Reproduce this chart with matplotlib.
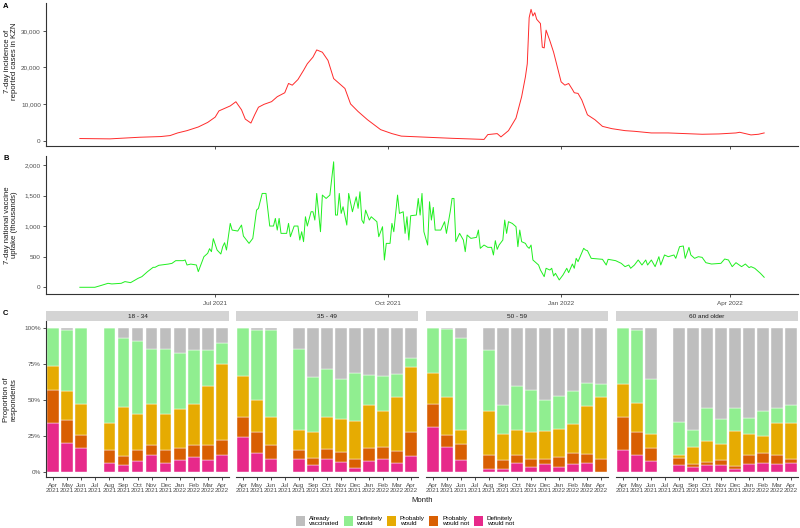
import numpy as np
import pandas as pd
import matplotlib
matplotlib.use("Agg")
import matplotlib.pyplot as plt
from matplotlib.patches import Patch

plt.rcParams['font.family'] = ['Liberation Sans', 'DejaVu Sans']

# ---------------- data ----------------
ref_date = pd.Timestamp("2021-07-01")

# Panel A: 7-day incidence of reported cases in KZN (days relative to 2021-07-01)
cases_day = [-72, -56, -40, -29, -24, -20, -15, -9, -4, 0, 2, 8, 11, 14, 16, 19, 21, 23, 26, 30,
             33, 37, 39, 41, 44, 47, 49, 52, 54, 57, 60, 63, 69, 72, 76, 81, 88, 94, 99, 117,
             126, 143, 145, 150, 152, 156, 160, 163, 165, 166, 167, 168, 169, 170, 171, 173,
             174, 175, 176, 178, 180, 182, 184, 186, 188, 190, 191, 193, 195, 198, 202, 206,
             211, 218, 223, 232, 241, 250, 259, 268, 277, 279, 282, 285, 289, 292]
cases_val = [540, 450, 900, 1080, 1350, 2070, 2700, 3700, 4950, 6400, 8100, 9460, 10600, 8400,
             5860, 4770, 7030, 9100, 9900, 10630, 11980, 13060, 15600, 15130, 16670, 19190,
             20990, 22800, 24770, 24140, 21890, 16940, 14230, 10000, 7930, 5680, 2970, 1890,
             1200, 800, 600, 300, 1620, 1890, 990, 2700, 6130, 11980, 17390, 21000, 33600,
             35860, 34050, 34950, 33150, 31980, 25500, 25320, 30180, 27300, 24140, 20090,
             16040, 15140, 15590, 13960, 13060, 12880, 11080, 7030, 5680, 3870, 3240, 2700,
             2520, 2070, 2070, 1890, 1710, 1800, 2070, 2250, 1890, 1530, 1710, 2070]

# Panel B: 7-day national vaccine uptake (thousands)
vacc_day = [-72, -64, -61, -57, -55, -50, -48, -45, -41, -39, -36, -33, -32, -30, -25, -23, -21,
            -17, -16, -15, -13, -10, -9, -6, -4, -3, -2, -1, 1, 3, 4, 5, 6, 8, 9, 12, 14, 15,
            18, 20, 22, 23, 25, 27, 29, 31, 32, 33, 34, 35, 38, 39, 40, 42, 44, 45, 46, 47, 48,
            49, 51, 52, 53, 54, 56, 57, 59, 61, 63, 64, 65, 66, 67, 68, 70, 71, 73, 75, 76, 77,
            78, 79, 80, 82, 83, 85, 86, 87, 89, 90, 91, 93, 94, 95, 97, 98, 100, 101, 102, 103,
            104, 107, 108, 109, 110, 111, 113, 114, 115, 116, 117, 120, 122, 123, 125, 126, 127,
            128, 130, 132, 133, 134, 136, 139, 140, 141, 143, 145, 147, 148, 149, 150, 151, 153,
            154, 155, 156, 158, 160, 161, 162, 163, 165, 166, 167, 168, 169, 171, 172, 173, 175,
            176, 178, 179, 180, 181, 183, 185, 187, 188, 190, 191, 192, 193, 196, 197, 198, 200,
            202, 206, 208, 209, 213, 216, 218, 220, 221, 223, 225, 227, 229, 230, 232, 234, 236,
            237, 239, 241, 244, 245, 247, 249, 250, 252, 253, 255, 257, 259, 261, 264, 269, 271,
            273, 275, 277, 280, 282, 284, 285, 287, 290, 292]
vacc_val = [0, 0, 27, 65, 55, 65, 93, 76, 147, 174, 256, 327, 327, 360, 380, 392, 436,
            436, 447, 365, 380, 365, 256, 501, 556, 632, 583, 796, 610, 545, 665, 730, 610, 1046,
            937, 921, 1019, 839, 719, 801, 1264, 1292, 1537, 1537, 1003, 1003, 1128, 937, 1128,
            883, 883, 1046, 828, 1003, 1003, 774, 910, 747, 1155, 1003, 1237, 1237, 1101, 1537,
            910, 1510, 1455, 1510, 2055, 1183, 1183, 1537, 1210, 1319, 1019, 1537, 1237, 1482,
            1292, 1564, 1101, 1046, 1264, 1101, 1155, 1101, 1074, 828, 992, 447, 719, 719, 1046,
            910, 1510, 1210, 1237, 883, 1155, 774, 1172, 1183, 1455, 1183, 1537, 910, 692, 1401,
            1101, 1308, 937, 937, 1074, 883, 1237, 1455, 1455, 747, 883, 774, 583, 856, 801, 818,
            937, 638, 692, 654, 654, 529, 763, 621, 692, 774, 1101, 883, 1074, 1046, 992, 665,
            937, 747, 719, 665, 638, 692, 447, 392, 365, 283, 174, 311, 283, 311, 185, 229, 120,
            202, 311, 240, 381, 311, 474, 420, 638, 610, 600, 474, 469, 458, 365, 458, 436, 392,
            338, 365, 311, 365, 447, 365, 447, 365, 447, 338, 501, 365, 529, 501, 529, 474, 665,
            676, 474, 654, 529, 474, 501, 490, 403, 381, 392, 463, 447, 338, 403, 338, 381, 322,
            338, 311, 229, 164]

date_ticks = ["2021-07-01", "2021-10-01", "2022-01-01", "2022-04-01"]
date_tick_labels = ["Jul 2021", "Oct 2021", "Jan 2022", "Apr 2022"]

# Panel C: survey responses (%), months Apr 2021 .. Apr 2022 (Jul 2021 missing)
age_groups = ["18 - 34", "35 - 49", "50 - 59", "60 and older"]
months = ["Apr\n2021", "May\n2021", "Jun\n2021", "Jul\n2021", "Aug\n2021", "Sep\n2021",
          "Oct\n2021", "Nov\n2021", "Dec\n2021", "Jan\n2022", "Feb\n2022", "Mar\n2022",
          "Apr\n2022"]
nan = np.nan
definitely_would_not = [
    [34, 20, 17, nan, 6.5, 4.6, 7.4, 11.5, 6, 8.5, 10.4, 8, 11.8],
    [24, 13, 9, nan, 9, 5, 9, 6.7, 2.8, 7.4, 8.8, 6.2, 11.3],
    [31, 17.5, 8.5, nan, 2, 2, 6.5, 3.5, 5.8, 3.5, 5.5, 6.5, 0],
    [15.5, 11.8, 7.6, nan, 4.8, 3.7, 4.8, 5, 1.8, 5.8, 6.2, 5.3, 6]]
probably_would_not = [
    [23, 16, 9, nan, 9, 6.4, 7.6, 7, 9, 8.5, 8.1, 10.7, 10.2],
    [14.5, 15, 10, nan, 6, 4.7, 6.7, 6.9, 6, 9.6, 8.7, 8.1, 16.4],
    [16.6, 8.5, 10.9, nan, 9.8, 6.5, 5.5, 5.3, 3.2, 7.1, 7.5, 6.2, 8.8],
    [22.5, 16.2, 8.8, nan, 4.7, 1.6, 2.4, 3.5, 2.6, 6.2, 7.2, 6.7, 3.2]]
probably_would = [
    [17, 20, 21, nan, 18.5, 34.5, 25, 29, 25, 27, 29, 41.3, 53],
    [28.5, 22, 19, nan, 14.5, 18.3, 22.3, 22.9, 26.5, 29.7, 25, 37.7, 45],
    [21.4, 26, 9.6, nan, 30.7, 17.8, 17.3, 19.2, 19.6, 19, 20.7, 33.3, 43.2],
    [23, 19.8, 10.2, nan, 2.3, 12.3, 14.3, 10.7, 24.2, 14.3, 11.8, 22, 24.8]]
definitely_would = [
    [26, 43, 53, nan, 66, 47.5, 51, 38, 45.5, 39, 37.5, 25, 15],
    [33, 49, 60.6, nan, 56, 38, 33.6, 27.9, 33.5, 20.7, 24.5, 16, 6.7],
    [31, 47.3, 64, nan, 42.3, 20.4, 30.7, 29.3, 21.4, 23.1, 22.7, 15.7, 9],
    [39, 51, 38.4, nan, 23.2, 11.7, 23.3, 17.5, 16.2, 11.1, 17.3, 10.8, 12.4]]
already_vaccinated = [
    [0, 1, 0, nan, 0, 7, 9, 14.5, 14.5, 17, 15, 15, 10],
    [0, 1, 1.4, nan, 14.5, 34, 28.4, 35.6, 31.2, 32.6, 33, 32, 20.6],
    [0, 0.7, 7, nan, 15.2, 53.3, 40, 42.7, 50, 47.3, 43.6, 38.3, 39],
    [0, 1.2, 35, nan, 65, 70.7, 55.2, 63.3, 55.2, 62.6, 57.5, 55.2, 53.6]]

response_labels = ["Already\nvaccinated", "Definitely\nwould", "Probably\nwould",
                   "Probably\nwould not", "Definitely\nwould not"]
response_colors = ["#BEBEBE", "#90EE90", "#E6AB02", "#D95F02", "#E7298A"]

# ---------------- figure ----------------
W, H = 800, 528
fig = plt.figure(figsize=(W / 100, H / 100), dpi=100)

TICK_FS = 4.6
TITLE_FS = 5.6


def rect(l, t, r, b):
    return [l / W, 1 - b / H, (r - l) / W, (b - t) / H]


def ftext(xp, yp, s, **kw):
    return fig.text(xp / W, 1 - yp / H, s, **kw)


axis_col = "#333333"
tick_col = "#4D4D4D"


def style_axes(ax, left=True):
    for s in ["top", "right"]:
        ax.spines[s].set_visible(False)
    ax.spines["bottom"].set_color(axis_col)
    ax.spines["bottom"].set_linewidth(0.8)
    if left:
        ax.spines["left"].set_color(axis_col)
        ax.spines["left"].set_linewidth(0.8)
    else:
        ax.spines["left"].set_visible(False)
    ax.tick_params(colors=axis_col, labelcolor=tick_col, length=2.2, width=0.6,
                   labelsize=TICK_FS, pad=1.5)


xlim = (ref_date + pd.Timedelta(days=-90), ref_date + pd.Timedelta(days=310))
tick_dates = pd.to_datetime(date_ticks)

# Panel A
axA = fig.add_axes(rect(46, 3, 798, 146))
dA = ref_date + pd.to_timedelta(cases_day, unit="D")
axA.plot(dA, cases_val, color="#FF2A2A", lw=0.7)
axA.set_xlim(xlim)
axA.set_ylim(-1500, 37600)
axA.set_yticks([0, 10000, 20000, 30000])
axA.set_yticklabels(["0", "10,000", "20,000", "30,000"])
axA.set_xticks(tick_dates)
axA.set_xticklabels([])
style_axes(axA)
ftext(11, 61, "7-day incidence of\nreported cases in KZN", rotation=90, ha="center",
      va="center", fontsize=TITLE_FS, color="#1A1A1A", linespacing=1.0)

# Panel B
axB = fig.add_axes(rect(46, 156, 798, 294))
dB = ref_date + pd.to_timedelta(vacc_day, unit="D")
axB.plot(dB, vacc_val, color="#1FEF1F", lw=0.7)
axB.set_xlim(xlim)
axB.set_ylim(-110, 2150)
axB.set_yticks([0, 500, 1000, 1500, 2000])
axB.set_yticklabels(["0", "500", "1,000", "1,500", "2,000"])
axB.set_xticks(tick_dates)
axB.set_xticklabels(date_tick_labels)
style_axes(axB)
axB.tick_params(axis="x", pad=2.5)
ftext(11, 225, "7-day national vaccine\nuptake (thousands)", rotation=90, ha="center",
      va="center", fontsize=TITLE_FS, color="#1A1A1A", linespacing=1.0)

# Panel C
facet_x = [(46, 229), (236, 418), (426, 608), (616, 798)]
x = np.arange(len(months))
series = [definitely_would_not, probably_would_not, probably_would, definitely_would,
          already_vaccinated]
series_colors = response_colors[::-1]
for g, (l, r) in enumerate(facet_x):
    ax = fig.add_axes(rect(l, 321, r, 477))
    vals = np.array([np.array(s[g], dtype=float) for s in series])
    tot = vals.sum(axis=0)
    frac = vals / tot
    bottom = np.zeros(len(months))
    for k in range(len(series)):
        h = np.nan_to_num(frac[k])
        ax.bar(x, h, bottom=bottom, width=0.82, color=series_colors[k],
               edgecolor="white", linewidth=0.3)
        bottom += h
    ax.set_xlim(-0.5, len(months) - 0.5)
    ax.set_ylim(-0.035, 1.05)
    ax.set_xticks(x)
    ax.set_xticklabels(months, linespacing=1.0)
    ax.set_yticks([0, 0.25, 0.5, 0.75, 1.0])
    if g == 0:
        ax.set_yticklabels(["0%", "25%", "50%", "75%", "100%"])
        style_axes(ax, left=True)
    else:
        ax.set_yticklabels([])
        style_axes(ax, left=False)
        ax.tick_params(axis="y", length=0)
    ax.tick_params(axis="x", pad=2.0)
    # strip
    sax = fig.add_axes(rect(l, 311, r, 321))
    sax.set_facecolor("#D4D4D4")
    sax.set_xticks([])
    sax.set_yticks([])
    for s in sax.spines.values():
        s.set_visible(False)
    sax.text(0.5, 0.5, age_groups[g], ha="center", va="center", fontsize=TICK_FS,
             color="#1A1A1A", transform=sax.transAxes)

ftext(10, 400, "Proportion of\nrespondents", rotation=90, ha="center", va="center",
      fontsize=TITLE_FS, color="#1A1A1A", linespacing=1.0)
ftext(422, 500, "Month", ha="center", va="center", fontsize=TITLE_FS, color="#1A1A1A")

# panel letters
for lab, yy in [("A", 3), ("B", 155), ("C", 310)]:
    ftext(3, yy, lab, fontsize=5.5, fontweight="bold", va="top", ha="left")

# legend
handles = [Patch(facecolor=c, edgecolor="none") for c in response_colors]
fig.legend(handles, response_labels, loc="center", bbox_to_anchor=(405 / W, 1 - 521 / H),
           ncol=5, frameon=False, fontsize=TICK_FS, handlelength=1.4, handleheight=2.0,
           handletextpad=0.6, columnspacing=0.7, borderaxespad=0, borderpad=0,
           labelspacing=0)

fig.savefig("out.png", dpi=100)
